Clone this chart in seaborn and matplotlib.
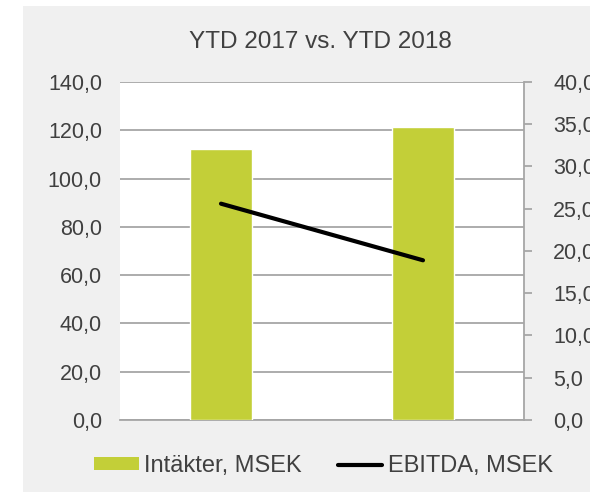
import matplotlib
matplotlib.use("Agg")
import matplotlib.pyplot as plt
import seaborn as sns
import pandas as pd
from matplotlib.ticker import FuncFormatter, MultipleLocator
from matplotlib.patches import Rectangle
from matplotlib.lines import Line2D
from matplotlib.patches import Patch

categories = ["YTD 2017", "YTD 2018"]
intakter = [112.2, 121.3]
ebitda = [25.6, 18.9]
title = "YTD 2017 vs. YTD 2018"
bar_label = "Intäkter, MSEK"
line_label = "EBITDA, MSEK"

sns.set_theme(style="white")
plt.rcParams["font.family"] = ["Liberation Sans", "DejaVu Sans"]

TEXT = "#404040"
GRID = "#A6A6A6"
BAR = "#C3CF38"
BG = "#F0F0F0"

W, H = 590, 492
fig = plt.figure(figsize=(W / 100, H / 100), dpi=100, facecolor="white")
fig.patches.append(Rectangle((23 / W, 0), 1 - 23 / W, 1 - 6 / H,
                             transform=fig.transFigure, facecolor=BG,
                             edgecolor="none", zorder=-10))

left, right, top, bottom = 120, 524, 82, 420
ax = fig.add_axes([left / W, 1 - bottom / H, (right - left) / W, (bottom - top) / H])
ax.set_facecolor("white")

df = pd.DataFrame({"cat": categories, "intakter": intakter, "ebitda": ebitda})
sns.barplot(data=df, x="cat", y="intakter", color=BAR, width=0.31,
            saturation=1, ax=ax, zorder=3)
ax.set_ylim(0, 140)
ax.yaxis.set_major_locator(MultipleLocator(20))
fmt = FuncFormatter(lambda v, p: f"{v:.1f}".replace(".", ","))
ax.yaxis.set_major_formatter(fmt)
ax.set_xlim(-0.5, 1.5)
ax.set_xticks([])
ax.set_xlabel("")
ax.set_ylabel("")
ax.grid(axis="y", color=GRID, linewidth=1.3, zorder=0)
ax.set_axisbelow(True)
for s in ["left", "top", "right"]:
    ax.spines[s].set_visible(False)
ax.spines["bottom"].set_color(GRID)
ax.spines["bottom"].set_linewidth(1.3)
ax.tick_params(axis="y", length=0, pad=13, labelsize=15.5, labelcolor=TEXT)

ax2 = ax.twinx()
sns.lineplot(data=df, x="cat", y="ebitda", color="black", linewidth=3,
             ax=ax2, zorder=4)
ax2.set_ylim(0, 40)
ax2.set_xlim(-0.5, 1.5)
ax2.yaxis.set_major_locator(MultipleLocator(5))
ax2.yaxis.set_major_formatter(fmt)
ax2.set_ylabel("")
ax2.set_xlabel("")
ax2.set_xticks([])
for s in ["left", "top", "bottom"]:
    ax2.spines[s].set_visible(False)
ax2.spines["right"].set_color(GRID)
ax2.spines["right"].set_linewidth(1.3)
ax2.tick_params(axis="y", right=True, direction="out", length=6, width=1.3,
                color=GRID, pad=15, labelsize=15.5, labelcolor=TEXT)

fig.text(320 / W, 1 - 48 / H, title, ha="center",
         va="baseline", fontsize=17.5, color=TEXT)

handles = [Patch(facecolor=BAR, edgecolor="none"),
           Line2D([0], [0], color="black", linewidth=3)]
fig.legend(handles, [bar_label, line_label], loc="center",
           bbox_to_anchor=(323.5 / W, 1 - 466 / H), ncol=2, frameon=False,
           fontsize=17, labelcolor=TEXT, handlelength=1.9, handleheight=0.47,
           handletextpad=0.25, columnspacing=1.5, borderpad=0, borderaxespad=0)

fig.savefig("out.png", dpi=100, facecolor="white")
